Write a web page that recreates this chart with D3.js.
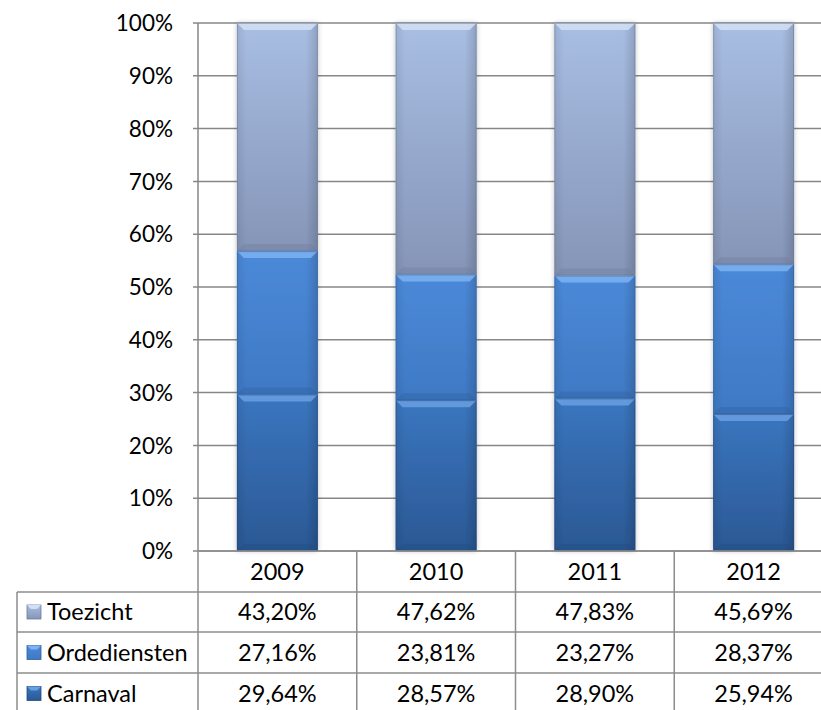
<!DOCTYPE html>
<html>
<head>
<meta charset="utf-8">
<script src="https://cdn.jsdelivr.net/npm/d3@7"></script>
<style>
  body { margin: 0; background: #fff; }
  text { font-family: Lato, "Open Sans", sans-serif; fill: #000; }
</style>
</head>
<body>
<div id="chart-area"></div>
<script>
// data
let years = ["2009", "2010", "2011", "2012"];
let seriesNames = ["Carnaval", "Ordediensten", "Toezicht"];
let carnaval = [29.64, 28.57, 28.90, 25.94];
let ordediensten = [27.16, 23.81, 23.27, 28.37];
let toezicht = [43.20, 47.62, 47.83, 45.69];
let tickValues = [0, 10, 20, 30, 40, 50, 60, 70, 80, 90, 100];

let W = 821, H = 710;
let svg = d3.select("#chart-area")
    .append("svg")
    .attr("width", W)
    .attr("height", H);

let nl = d3.formatLocale({ decimal: ",", thousands: ".", grouping: [3], currency: ["€", ""] });
let pct = nl.format(".2f");

let y = d3.scaleLinear()
    .domain([0, 100])
    .range([551, 23]);

let x = d3.scaleBand()
    .domain(years)
    .range([198, 833]);

let barW = x.bandwidth() * 0.51;

let colors = {
    Carnaval: { top: "#3a76bf", bot: "#2b5894", hi: "#6aa0e2", lo: "#234a7e" },
    Ordediensten: { top: "#4b89d8", bot: "#3f79c4", hi: "#7cb3f2", lo: "#2f5f9e" },
    Toezicht: { top: "#a8bee3", bot: "#8595b8", hi: "#d2e0f5", lo: "#6c7a98" }
};

let defs = svg.append("defs");
seriesNames.forEach(function (s) {
    let g = defs.append("linearGradient")
        .attr("id", "g-" + s)
        .attr("x1", 0).attr("y1", 0).attr("x2", 0).attr("y2", 1);
    g.append("stop").attr("offset", "0%").attr("stop-color", colors[s].top);
    g.append("stop").attr("offset", "100%").attr("stop-color", colors[s].bot);
    let h = defs.append("linearGradient")
        .attr("id", "h-" + s)
        .attr("x1", 0).attr("y1", 0).attr("x2", 1).attr("y2", 0);
    h.append("stop").attr("offset", "0%").attr("stop-color", "#000").attr("stop-opacity", 0.08);
    h.append("stop").attr("offset", "12%").attr("stop-color", "#000").attr("stop-opacity", 0);
    h.append("stop").attr("offset", "85%").attr("stop-color", "#000").attr("stop-opacity", 0);
    h.append("stop").attr("offset", "100%").attr("stop-color", "#000").attr("stop-opacity", 0.15);
});
let f = defs.append("filter").attr("id", "shadow")
    .attr("x", "-20%").attr("y", "-5%").attr("width", "140%").attr("height", "110%");
f.append("feGaussianBlur").attr("in", "SourceAlpha").attr("stdDeviation", 2.5);
f.append("feComponentTransfer").append("feFuncA").attr("type", "linear").attr("slope", 0.25);
let fm = f.append("feMerge");
fm.append("feMergeNode");
fm.append("feMergeNode").attr("in", "SourceGraphic");

// gridlines
svg.append("g")
    .selectAll("line")
    .data(tickValues)
    .enter().append("line")
    .attr("x1", 193)
    .attr("x2", W)
    .attr("y1", (d) => y(d))
    .attr("y2", (d) => y(d))
    .attr("stroke", "#878787")
    .attr("stroke-width", 1.5);

// y axis line + labels
svg.append("line")
    .attr("x1", 198).attr("x2", 198)
    .attr("y1", y(100)).attr("y2", y(0))
    .attr("stroke", "#878787").attr("stroke-width", 1.5);

svg.append("g")
    .selectAll("text")
    .data(tickValues)
    .enter().append("text")
    .attr("x", 173)
    .attr("y", (d) => y(d))
    .attr("dy", "0.36em")
    .attr("text-anchor", "end")
    .style("font-size", "22.5px")
    .text((d) => d + "%");

// stacked data
let rows = years.map(function (yr, i) {
    return { year: yr, Carnaval: carnaval[i], Ordediensten: ordediensten[i], Toezicht: toezicht[i] };
});
let stack = d3.stack().keys(seriesNames)(rows);

let bars = svg.append("g").attr("filter", "url(#shadow)");
let bev = 7;
stack.forEach(function (layer) {
    let s = layer.key;
    layer.forEach(function (d, i) {
        let x0 = x(years[i]) + (x.bandwidth() - barW) / 2;
        let y0 = y(d[1]), y1 = y(d[0]);
        let h = y1 - y0;
        let g = bars.append("g");
        g.append("rect")
            .attr("x", x0).attr("y", y0)
            .attr("width", barW).attr("height", h)
            .attr("fill", "url(#g-" + s + ")");
        g.append("rect")
            .attr("x", x0).attr("y", y0)
            .attr("width", barW).attr("height", h)
            .attr("fill", "url(#h-" + s + ")");
        g.append("polygon")
            .attr("points", [[x0, y0], [x0 + barW, y0], [x0 + barW - bev, y0 + bev], [x0 + bev, y0 + bev]].join(" "))
            .attr("fill", colors[s].hi)
            .attr("opacity", 0.85);
        g.append("polygon")
            .attr("points", [[x0, y1], [x0 + barW, y1], [x0 + barW - bev, y1 - bev], [x0 + bev, y1 - bev]].join(" "))
            .attr("fill", colors[s].lo)
            .attr("opacity", 0.35);
        g.append("rect")
            .attr("x", x0 + 0.5).attr("y", y0 + 0.5)
            .attr("width", barW - 1).attr("height", h - 1)
            .attr("fill", "none")
            .attr("stroke", colors[s].lo)
            .attr("stroke-opacity", 0.5)
            .attr("stroke-width", 1);
    });
});

// data table
let tableTop = y(0);
let rowH = [41, 40, 41, 41];
let rowY = [tableTop];
rowH.forEach((h, i) => rowY.push(rowY[i] + h));
let labelX0 = 17;
let lineColor = "#8c8c8c";
let table = svg.append("g");

// horizontal lines
table.append("line")
    .attr("x1", 198).attr("x2", W)
    .attr("y1", rowY[0]).attr("y2", rowY[0])
    .attr("stroke", lineColor).attr("stroke-width", 1.5);
[1, 2, 3].forEach(function (r) {
    table.append("line")
        .attr("x1", labelX0).attr("x2", W)
        .attr("y1", rowY[r]).attr("y2", rowY[r])
        .attr("stroke", lineColor).attr("stroke-width", 1.5);
});
// vertical lines
table.append("line")
    .attr("x1", labelX0).attr("x2", labelX0)
    .attr("y1", rowY[1]).attr("y2", H)
    .attr("stroke", lineColor).attr("stroke-width", 1.5);
years.forEach(function (yr) {
    table.append("line")
        .attr("x1", x(yr)).attr("x2", x(yr))
        .attr("y1", rowY[0]).attr("y2", H)
        .attr("stroke", lineColor).attr("stroke-width", 1.5);
});

// year header
table.selectAll(".yr")
    .data(years)
    .enter().append("text")
    .attr("x", (d) => x(d) + x.bandwidth() / 2)
    .attr("y", rowY[0] + rowH[0] / 2)
    .attr("dy", "0.36em")
    .attr("text-anchor", "middle")
    .style("font-size", "23.5px")
    .text((d) => d);

let tableRows = [
    { name: "Toezicht", values: toezicht },
    { name: "Ordediensten", values: ordediensten },
    { name: "Carnaval", values: carnaval }
];
tableRows.forEach(function (r, k) {
    let cy = rowY[k + 1] + rowH[k + 1] / 2;
    let s = r.name;
    table.append("rect")
        .attr("x", 27).attr("y", cy - 7)
        .attr("width", 14).attr("height", 14)
        .attr("fill", "url(#g-" + s + ")")
        .attr("stroke", colors[s].lo)
        .attr("stroke-width", 0.8);
    table.append("polygon")
        .attr("points", [[27, cy - 7], [41, cy - 7], [37, cy - 3], [31, cy - 3]].join(" "))
        .attr("fill", colors[s].hi);
    table.append("text")
        .attr("x", 47)
        .attr("y", cy)
        .attr("dy", "0.36em")
        .style("font-size", "23.5px")
        .text(r.name);
    r.values.forEach(function (v, i) {
        table.append("text")
            .attr("x", x(years[i]) + x.bandwidth() / 2)
            .attr("y", cy)
            .attr("dy", "0.36em")
            .attr("text-anchor", "middle")
            .style("font-size", "23.5px")
            .text(pct(v) + "%");
    });
});
</script>
</body>
</html>
